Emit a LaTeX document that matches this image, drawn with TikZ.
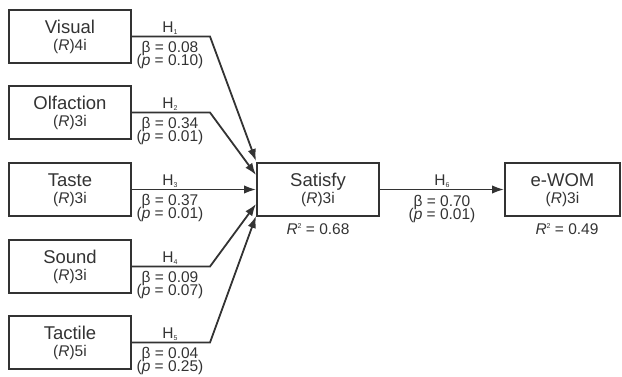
\documentclass[tikz,border=0pt]{standalone}
\usepackage{fontspec}
\setmainfont{Liberation Sans}
\usetikzlibrary{arrows.meta}
\definecolor{ink}{HTML}{333333}
\newcommand{\fsz}[1]{\fontsize{#1}{#1}\selectfont}
\newcommand{\Hs}[1]{H\raisebox{-2pt}{\fsz{7}#1}}
\newcommand{\Rsq}{\textit{R}\raisebox{6pt}{\fsz{7}2}}
\begin{document}
\begin{tikzpicture}[x=1pt,y=-1pt,
  box/.style={draw=ink, line width=2pt, minimum width=122pt, minimum height=53pt, inner sep=0pt},
  ttl/.style={anchor=base, text=ink, font=\fsz{18.5}, inner sep=0pt},
  sub/.style={anchor=base, text=ink, font=\fsz{15.5}, inner sep=0pt},
  lbl/.style={anchor=base, text=ink, font=\fsz{15.5}, inner sep=0pt},
  arr/.style={draw=ink, line width=1.8pt, -{Latex[length=12pt,width=8.5pt]}},
]
\useasboundingbox (0,0) rectangle (622,376);
% boxes
\node[box] (vis) at (70,36.5) {};
\node[box] (olf) at (70,112.5) {};
\node[box] (tas) at (70,189.5) {};
\node[box] (sou) at (70,266.5) {};
\node[box] (tac) at (70,342.5) {};
\node[box] (sat) at (318,189.5) {};
\node[box, minimum width=115pt] (ewom) at (562.5,189.5) {};
% box texts
\node[ttl] (visT) at (70,33) {Visual};
\node[sub] (visS) at (70,50) {(\textit{R})4i};
\node[ttl] (olfT) at (70,109) {Olfaction};
\node[sub] (olfS) at (70,126) {(\textit{R})3i};
\node[ttl] (tasT) at (70,186) {Taste};
\node[sub] (tasS) at (70,203) {(\textit{R})3i};
\node[ttl] (souT) at (70,263) {Sound};
\node[sub] (souS) at (70,280) {(\textit{R})3i};
\node[ttl] (tacT) at (70,339) {Tactile};
\node[sub] (tacS) at (70,356) {(\textit{R})5i};
\node[ttl] (satT) at (318,186) {Satisfy};
\node[sub] (satS) at (318,203) {(\textit{R})3i};
\node[ttl] (ewoT) at (562.5,186) {e-WOM};
\node[sub] (ewoS) at (562.5,203) {(\textit{R})3i};
\node[lbl] (satR) at (318,234) {\Rsq{} = 0.68};
\node[lbl] (ewoR) at (567,234) {\Rsq{} = 0.49};
% bends
\coordinate (b1) at (210,36.5);
\coordinate (b2) at (210,112.5);
\coordinate (b4) at (210,266.5);
\coordinate (b5) at (210,342.5);
% connectors
\draw[arr] (vis.east) -- (b1) -- ([yshift=28.5pt]sat.west);
\draw[arr] (olf.east) -- (b2) -- ([yshift=14.5pt]sat.west);
\draw[arr] (tas.east) -- (sat.west);
\draw[arr] (sou.east) -- (b4) -- ([yshift=-14.5pt]sat.west);
\draw[arr] (tac.east) -- (b5) -- ([yshift=-26.5pt]sat.west);
\draw[arr] (sat.east) -- (ewom.west);
% path labels
\node[lbl] (h1) at (170,32.5) {\Hs{1}};
\node[lbl] (b1l) at (170,52) {β = 0.08};
\node[lbl] (p1l) at (170,65) {(\textit{p} = 0.10)};
\node[lbl] (h2) at (170,108.5) {\Hs{2}};
\node[lbl] (b2l) at (170,128) {β = 0.34};
\node[lbl] (p2l) at (170,141) {(\textit{p} = 0.01)};
\node[lbl] (h3) at (170,185.5) {\Hs{3}};
\node[lbl] (b3l) at (170,205) {β = 0.37};
\node[lbl] (p3l) at (170,218) {(\textit{p} = 0.01)};
\node[lbl] (h4) at (170,262.5) {\Hs{4}};
\node[lbl] (b4l) at (170,282) {β = 0.09};
\node[lbl] (p4l) at (170,295) {(\textit{p} = 0.07)};
\node[lbl] (h5) at (170,338.5) {\Hs{5}};
\node[lbl] (b5l) at (170,358) {β = 0.04};
\node[lbl] (p5l) at (170,371) {(\textit{p} = 0.25)};
\node[lbl] (h6) at (442,185.5) {\Hs{6}};
\node[lbl] (b6l) at (442,206) {β = 0.70};
\node[lbl] (p6l) at (442,219) {(\textit{p} = 0.01)};
\end{tikzpicture}
\end{document}
